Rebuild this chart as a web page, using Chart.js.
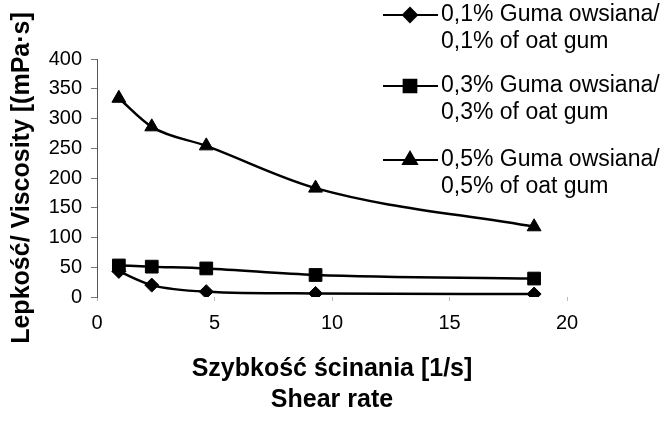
<!DOCTYPE html>
<html lang="pl">

<head>
    <meta charset="UTF-8">
    <title>Lepkość / Viscosity</title>
    <script src="https://cdn.jsdelivr.net/npm/chart.js"></script>
    <style>
        html, body {
            margin: 0;
            padding: 0;
            background: #fff;
        }

        #contenedor {
            width: 668px;
            height: 424px;
        }
    </style>
</head>

<body>
    <div id="contenedor">
        <canvas id="canvas" width="668" height="424"></canvas>
    </div>

    <script>
        // dane
        const shearRate = [0.93, 2.33, 4.65, 9.3, 18.6]
        const gum01 = [43, 20, 9, 6, 5]
        const gum03 = [53, 51, 48, 37, 31]
        const gum05 = [334, 286, 254, 183, 118]
        const seriesNames = [
            ['0,1% Guma owsiana/', '0,1% of oat gum'],
            ['0,3% Guma owsiana/', '0,3% of oat gum'],
            ['0,5% Guma owsiana/', '0,5% of oat gum']
        ]
        const xTitle = ['Szybkość ścinania [1/s]', 'Shear rate']
        const yTitle = 'Lepkość/ Viscosity [(mPa·s]'

        const FONT = "'Liberation Sans', Arial, sans-serif"

        function toPoints(values) {
            return values.map((v, i) => ({ x: shearRate[i], y: v }))
        }

        // legenda po prawej, dwie linie tekstu na wpis
        const sideLegend = {
            id: 'sideLegend',
            afterDraw(chart) {
                const c = chart.ctx
                const rowsY = [15, 86, 160]
                c.save()
                chart.data.datasets.forEach((ds, i) => {
                    const y = rowsY[i]
                    c.strokeStyle = '#000'
                    c.lineWidth = 2
                    c.beginPath()
                    c.moveTo(383, y)
                    c.lineTo(438, y)
                    c.stroke()
                    Chart.helpers.drawPoint(c, {
                        pointStyle: ds.pointStyle,
                        radius: ds.pointRadius,
                        rotation: 0,
                        borderWidth: 1
                    }, 410, y)
                    c.fillStyle = '#000'
                    c.fill()
                    c.font = '23px ' + FONT
                    c.textBaseline = 'middle'
                    c.textAlign = 'left'
                    c.fillText(seriesNames[i][0], 441, y)
                    c.fillText(seriesNames[i][1], 441, y + 27)
                })
                c.restore()
            }
        }

        function makeSet(values, style, r) {
            return {
                label: '',
                data: toPoints(values),
                borderColor: '#000',
                backgroundColor: '#000',
                borderWidth: 2.5,
                pointStyle: style,
                pointRadius: r,
                pointHoverRadius: r,
                pointBorderWidth: 1,
                cubicInterpolationMode: 'monotone'
            }
        }

        const ctx = document.getElementById('canvas')
        const graph = new Chart(ctx, {
            type: 'line',
            data: {
                datasets: [
                    makeSet(gum01, 'rectRot', 7),
                    makeSet(gum03, 'rect', 9),
                    makeSet(gum05, 'triangle', 8)
                ]
            },
            options: {
                responsive: false,
                animation: false,
                layout: {
                    padding: { top: 59, right: 101, bottom: 0, left: 0 }
                },
                plugins: {
                    legend: { display: false },
                    tooltip: { enabled: false }
                },
                scales: {
                    x: {
                        type: 'linear',
                        min: 0,
                        max: 20,
                        afterFit(scale) { scale.height = 127 },
                        ticks: {
                            stepSize: 5,
                            color: '#000',
                            padding: 10,
                            font: { family: FONT, size: 20 }
                        },
                        grid: {
                            drawOnChartArea: false,
                            tickLength: 4,
                            color: '#bbb'
                        },
                        border: { display: false },
                        title: {
                            display: true,
                            text: xTitle,
                            color: '#000',
                            padding: { top: 0, bottom: 8 },
                            font: { family: FONT, size: 25, weight: 'bold', lineHeight: 1.24 }
                        }
                    },
                    y: {
                        min: 0,
                        max: 400,
                        afterFit(scale) { scale.width = 97 },
                        ticks: {
                            stepSize: 50,
                            color: '#000',
                            padding: 9,
                            font: { family: FONT, size: 20 }
                        },
                        grid: {
                            drawOnChartArea: false,
                            tickLength: 6,
                            color: '#777'
                        },
                        border: {
                            display: true,
                            color: '#555',
                            width: 1,
                            dash: [5, 2]
                        },
                        title: {
                            display: true,
                            text: yTitle,
                            color: '#000',
                            padding: { top: 7, bottom: 0 },
                            font: { family: FONT, size: 25, weight: 'bold', lineHeight: 1.2 }
                        }
                    }
                }
            },
            plugins: [sideLegend]
        })
    </script>

</body>

</html>
